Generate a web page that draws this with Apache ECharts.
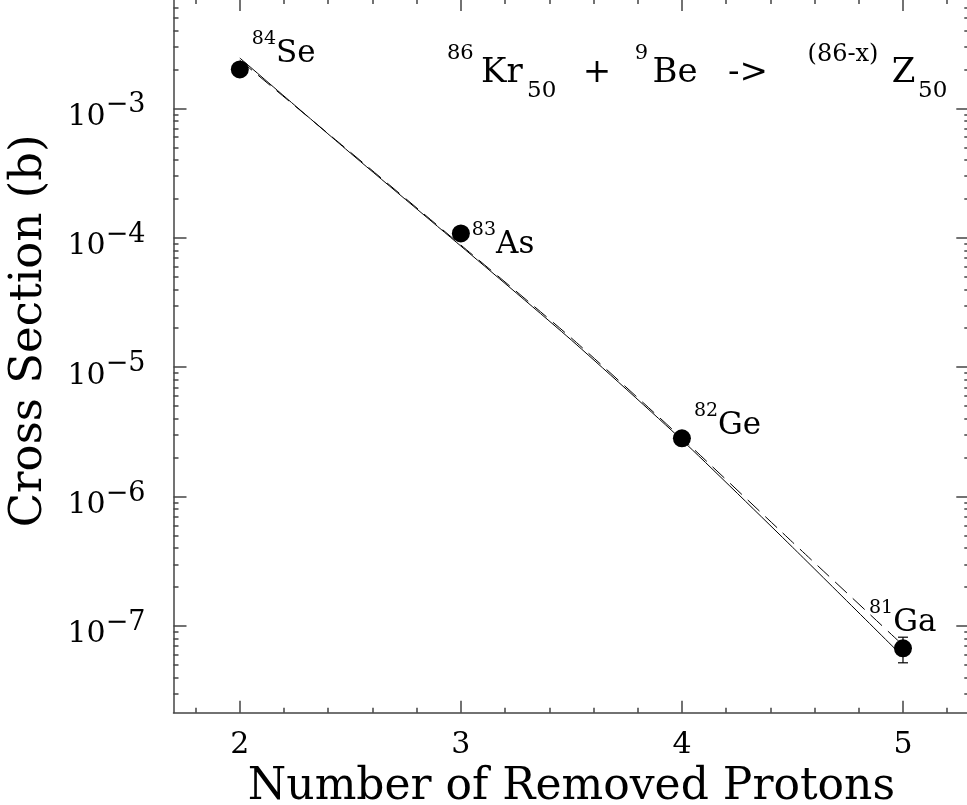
<!DOCTYPE html>
<html><head><meta charset="utf-8">
<script src="https://cdn.jsdelivr.net/npm/echarts@6/dist/echarts.min.js"></script>
<style>html,body{margin:0;padding:0;background:#fff}#c{width:967px;height:805px}</style>
</head><body><div id="c"></div>
<script>
// ---- data ----
const protonsRemoved = [2, 3, 4, 5];
const crossSection = [2.0e-3, 1.08e-4, 2.82e-6, 6.73e-8];
const massNumbers = ['84', '83', '82', '81'];
const elements = ['Se', 'As', 'Ge', 'Ga'];
const errX = [5];
const errLow = [5.2e-8];
const errHigh = [8.2e-8];
const fitX = [2, 2.5, 3, 3.5, 4, 4.5, 5];
const fitSolid = [2.45e-3, 4.52e-4, 8.63e-5, 1.62e-5, 2.74e-6, 4.07e-7, 5.8e-8];
const fitDashed = [2.36e-3, 4.59e-4, 8.79e-5, 1.68e-5, 2.83e-6, 4.45e-7, 7.11e-8];
const xTicks = [2, 3, 4, 5];
const xMinorTicks = [1.8, 2.2, 2.4, 2.6, 2.8, 3.2, 3.4, 3.6, 3.8, 4.2, 4.4, 4.6, 4.8, 5.2];
const yTicks = [1e-7, 1e-6, 1e-5, 1e-4, 1e-3];
const yMinorMultipliers = [2, 3, 4, 5, 6, 7, 8, 9];
const yDecades = [-8, -7, -6, -5, -4, -3];
const xTitle = 'Number of Removed Protons';
const yTitle = 'Cross Section (b)';

// ---- layout ----
const FONT = 'DejaVu Serif';
const X_MIN = 1.7, X_MAX = 5.3;
const Y_MIN = 2.14e-8, Y_MAX = 7.0e-3;
const AX = '#444';
const labelOffsets = [[12, -20], [11, 7], [12, -17], [-34, -30]];

const yMinorTicks = [];
yDecades.forEach(d => yMinorMultipliers.forEach(k => {
  const v = k * Math.pow(10, d);
  if (v > Y_MIN && v < Y_MAX) yMinorTicks.push(v);
}));

const axLine = { show: true, onZero: false, lineStyle: { color: AX, width: 1.5 } };
const noLine = { show: false };
function xAxisDef(pos, ticks, len, withLabels, lineShow) {
  const a = {
    type: 'value', min: X_MIN, max: X_MAX, position: pos,
    axisLine: lineShow ? axLine : noLine,
    axisTick: { show: true, inside: true, length: len, customValues: ticks, lineStyle: { color: AX, width: 1.5 } },
    axisLabel: { show: false },
    splitLine: { show: false }, minorTick: { show: false }
  };
  if (withLabels) {
    a.axisLabel = { show: true, customValues: ticks, fontFamily: FONT, fontSize: 30, color: '#000', margin: 18 };
    a.name = xTitle; a.nameLocation = 'middle'; a.nameGap = 29;
    a.nameTextStyle = { fontFamily: FONT, fontSize: 44, color: '#000' };
  }
  return a;
}
function yAxisDef(pos, ticks, len, withLabels, lineShow) {
  const a = {
    type: 'log', logBase: 10, min: Y_MIN, max: Y_MAX, position: pos,
    axisLine: lineShow ? axLine : noLine,
    axisTick: { show: true, inside: true, length: len, customValues: ticks, lineStyle: { color: AX, width: 1.5 } },
    axisLabel: { show: false },
    splitLine: { show: false }, minorTick: { show: false }
  };
  if (withLabels) {
    a.axisLabel = {
      show: true, customValues: ticks, margin: 28, padding: [7, 0, 0, 0],
      formatter: v => '{b|10}{s|\u2212' + Math.round(-Math.log10(v)) + '}',
      rich: {
        b: { fontFamily: FONT, fontSize: 30, lineHeight: 40, verticalAlign: 'bottom', color: '#000' },
        s: { fontFamily: FONT, fontSize: 27, lineHeight: 16, verticalAlign: 'top', color: '#000' }
      }
    };
    a.name = yTitle; a.nameLocation = 'middle'; a.nameGap = 122;
    a.nameTextStyle = { fontFamily: FONT, fontSize: 45, color: '#000', padding: [0, 0, 0, 50] };
  }
  return a;
}

const chart = echarts.init(document.getElementById('c'), null, { renderer: 'canvas' });
chart.setOption({
  animation: false,
  backgroundColor: '#fff',
  grid: { left: 173.5, right: -2.3, top: -1, bottom: 92.3, containLabel: false, outerBoundsMode: 'none' },
  xAxis: [
    xAxisDef('bottom', xTicks, 12, true, true),
    xAxisDef('bottom', xMinorTicks, 5, false, false),
    xAxisDef('top', xTicks, 12, false, true),
    xAxisDef('top', xMinorTicks, 5, false, false)
  ],
  yAxis: [
    yAxisDef('left', yTicks, 13, true, true),
    yAxisDef('left', yMinorTicks, 5, false, false),
    yAxisDef('right', yTicks, 13, false, true),
    yAxisDef('right', yMinorTicks, 5, false, false)
  ],
  series: [
    {
      type: 'line', xAxisIndex: 0, yAxisIndex: 0, showSymbol: false, smooth: 0.2,
      data: fitX.map((x, i) => [x, fitSolid[i]]),
      lineStyle: { color: '#000', width: 1 }, z: 2
    },
    {
      type: 'line', xAxisIndex: 0, yAxisIndex: 0, showSymbol: false, smooth: 0.2,
      data: fitX.map((x, i) => [x, fitDashed[i]]),
      lineStyle: { color: '#000', width: 1, type: [16, 8] }, z: 2
    },
    {
      type: 'custom', xAxisIndex: 0, yAxisIndex: 0, z: 3,
      data: errX.map((x, i) => [x, errLow[i], errHigh[i]]),
      encode: { x: 0, y: [1, 2] },
      renderItem: (params, api) => {
        const x = api.value(0);
        const p1 = api.coord([x, api.value(1)]);
        const p2 = api.coord([x, api.value(2)]);
        const cap = 5, st = { stroke: '#000', lineWidth: 1.2 };
        return { type: 'group', children: [
          { type: 'line', shape: { x1: p1[0], y1: p1[1], x2: p2[0], y2: p2[1] }, style: st },
          { type: 'line', shape: { x1: p1[0] - cap, y1: p1[1], x2: p1[0] + cap, y2: p1[1] }, style: st },
          { type: 'line', shape: { x1: p2[0] - cap, y1: p2[1], x2: p2[0] + cap, y2: p2[1] }, style: st }
        ] };
      }
    },
    {
      type: 'scatter', xAxisIndex: 0, yAxisIndex: 0, symbol: 'circle', symbolSize: 18, z: 4,
      itemStyle: { color: '#000', opacity: 1 },
      emphasis: { disabled: true },
      data: protonsRemoved.map((x, i) => ({
        value: [x, crossSection[i]],
        label: { offset: labelOffsets[i] }
      })),
      label: {
        show: true, position: 'inside', align: 'left', verticalAlign: 'middle', color: '#000', opacity: 1,
        formatter: p => '{m|' + massNumbers[p.dataIndex] + '}{e|' + elements[p.dataIndex] + '}',
        rich: {
          m: { fontFamily: FONT, fontSize: 19, lineHeight: 15, verticalAlign: 'top', color: '#000' },
          e: { fontFamily: FONT, fontSize: 31, lineHeight: 40, verticalAlign: 'bottom', color: '#000' }
        }
      }
    }
  ],
  graphic: [{
    type: 'text', x: 447, y: 73, z: 10,
    style: {
      text: '{p|86}{m|Kr}{q|50}{g| + }{p9|9}{be|Be}{ar| -> }{px|(86-x)}{z|Z}{q2|50}',
      align: 'left', verticalAlign: 'middle', fill: '#000',
      rich: {
        p: { fontFamily: FONT, fontSize: 21, lineHeight: 28, verticalAlign: 'top', width: 34, align: 'left' },
        m: { fontFamily: FONT, fontSize: 34, lineHeight: 60, width: 46, align: 'left' },
        q: { fontFamily: FONT, fontSize: 23, lineHeight: 36, verticalAlign: 'bottom', width: 35, align: 'left' },
        g: { fontFamily: FONT, fontSize: 34, lineHeight: 60, width: 70, align: 'center' },
        p9: { fontFamily: FONT, fontSize: 21, lineHeight: 28, verticalAlign: 'top', width: 19, align: 'left' },
        be: { fontFamily: FONT, fontSize: 34, lineHeight: 60, width: 48, align: 'left' },
        ar: { fontFamily: FONT, fontSize: 34, lineHeight: 60, width: 98, align: 'center' },
        px: { fontFamily: FONT, fontSize: 24, lineHeight: 28, verticalAlign: 'top', width: 92, align: 'left' },
        z: { fontFamily: FONT, fontSize: 34, lineHeight: 60, width: 29, align: 'left' },
        q2: { fontFamily: FONT, fontSize: 23, lineHeight: 36, verticalAlign: 'bottom', align: 'left' }
      }
    }
  }]
});
</script>
</body></html>
